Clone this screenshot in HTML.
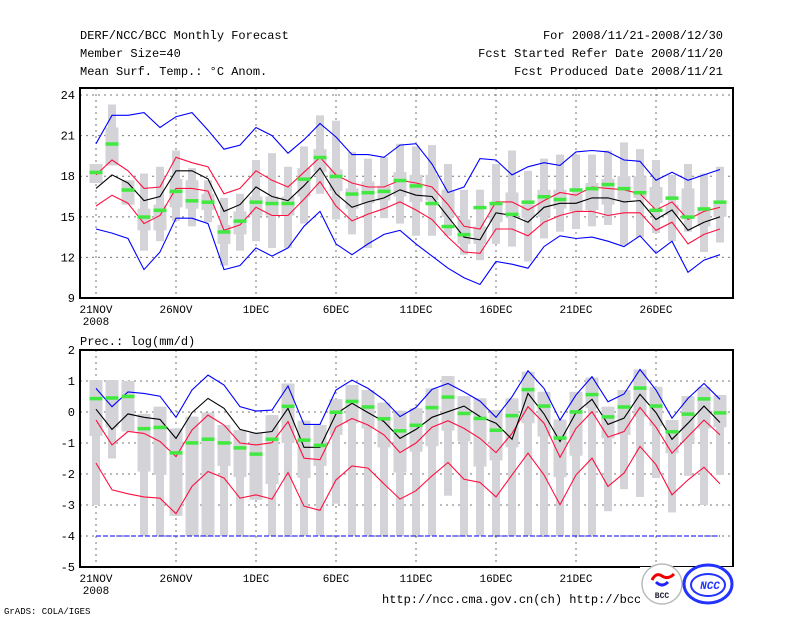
<!DOCTYPE html>
<html><head><meta charset="utf-8"><style>
body{margin:0;background:#fff;}
svg{display:block;font-family:"Liberation Mono",monospace;}
</style></head><body>
<svg id="chart" width="800" height="618" viewBox="0 0 800 618">
<rect width="800" height="618" fill="#fff"/>
<g font-size="12" fill="#000">
<text x="80" y="39">DERF/NCC/BCC Monthly Forecast</text>
<text x="80" y="57">Member Size=40</text>
<text x="80" y="75">Mean Surf. Temp.: °C Anom.</text>
<text x="723" y="39" text-anchor="end">For 2008/11/21-2008/12/30</text>
<text x="723" y="57" text-anchor="end">Fcst Started Refer Date 2008/11/20</text>
<text x="723" y="75" text-anchor="end">Fcst Produced Date 2008/11/21</text>
<text x="80" y="345">Prec.: log(mm/d)</text>
<text x="382" y="603">http://ncc.cma.gov.cn(ch)  http://bcc.cma.gov.cn</text>
</g>
<text x="4" y="614" font-size="9">GrADS: COLA/IGES</text>
<g id="top"></g>
<g id="bot"></g>
<rect x="640" y="567" width="100" height="48" fill="#fff"/>
<g>
<circle cx="662" cy="584" r="20" fill="#fff" stroke="#bbb" stroke-width="1.5"/>
<path d="M652 580 q4-8 10-4 q6 4 12-2" fill="none" stroke="#e00" stroke-width="3"/>
<path d="M656 582 q6 6 12 0" fill="none" stroke="#22f" stroke-width="3"/>
<text x="662" y="598" font-size="8" font-weight="bold" text-anchor="middle" fill="#223">BCC</text>
</g>
<g>
<ellipse cx="708" cy="584" rx="24" ry="19" fill="#fff" stroke="#23f" stroke-width="3"/>
<ellipse cx="708" cy="585" rx="17" ry="11" fill="none" stroke="#23f" stroke-width="2"/>
<text x="710" y="589" font-size="11" font-weight="bold" font-style="italic" text-anchor="middle" fill="#23f">NCC</text>
</g>
</svg>
<script>
const days = ["21NOV","26NOV","1DEC","6DEC","11DEC","16DEC","21DEC","26DEC"];
const tTicks = [24,21,18,15,12,9];
const pTicks = [2,1,0,-1,-2,-3,-4,-5];
// Temperature series (40 days)
const tBlueHi=[20.4,22.5,22.5,22.7,21.6,22.4,22.7,21.4,20.0,20.3,21.6,21.0,19.7,20.7,21.9,20.9,19.6,19.6,19.4,20.3,20.4,18.9,16.8,17.2,19.3,19.2,18.1,18.7,19.0,18.8,19.8,19.9,19.8,19.2,19.1,17.7,18.3,17.7,18.1,18.5];
const tRedHi=[18.1,19.2,18.4,17.1,17.2,19.4,19.0,18.7,16.7,17.1,18.4,17.7,17.2,18.3,19.4,18.1,17.5,17.2,17.2,17.7,17.5,17.2,15.9,14.3,14.1,16.1,16.1,15.5,16.2,16.8,16.6,17.2,17.1,17.0,16.7,15.5,16.1,14.8,15.4,15.7];
const tMean=[17.1,18.1,17.5,16.2,16.5,18.4,18.4,17.8,15.4,15.9,17.2,16.5,16.2,17.3,18.6,16.7,15.7,16.1,16.4,17.0,16.6,16.5,15.0,13.5,13.3,15.3,15.1,14.6,15.7,16.0,16.0,16.4,16.4,16.1,16.2,14.8,15.5,14.0,14.6,15.0];
const tRedLo=[15.8,16.6,16.0,14.5,15.1,17.1,17.1,16.9,14.0,14.4,15.7,15.1,15.1,16.3,17.6,15.8,14.7,15.2,15.6,16.1,15.5,14.8,13.5,12.4,12.3,14.1,14.1,13.6,14.6,15.1,15.4,15.4,15.1,15.3,15.3,14.0,14.6,13.0,13.7,14.1];
const tBlueLo=[14.1,13.8,13.4,11.1,12.4,14.9,14.9,14.5,11.1,11.4,12.7,12.1,12.7,14.3,15.4,13.0,12.2,13.0,13.7,14.0,13.0,12.1,11.2,10.5,10.0,11.7,11.5,11.2,12.8,13.6,13.4,13.5,13.2,12.8,13.6,12.3,13.2,10.9,11.8,12.2];
const tMedian=[18.3,20.4,17.0,15.0,15.5,16.9,16.2,16.1,13.9,14.7,16.1,16.0,16.0,17.8,19.4,18.0,16.7,16.8,16.9,17.7,17.3,16.0,14.3,13.7,15.7,16.0,15.2,16.1,16.5,16.3,17.0,17.1,17.4,17.1,16.8,15.5,16.4,15.0,15.6,16.1];
const tMax=[18.9,23.3,17.7,18.2,18.7,19.9,18.6,17.7,16.4,16.7,19.2,19.7,18.7,20.2,22.5,22.1,19.8,19.3,19.4,20.4,20.2,20.3,18.9,17.0,17.0,18.9,19.9,18.4,19.3,19.6,19.6,19.6,19.9,20.5,20.0,19.2,18.1,18.9,18.2,18.7];
const tMin=[17.5,18.8,15.9,12.5,13.2,14.7,14.3,14.6,11.4,12.5,13.2,12.7,12.7,14.5,16.7,14.8,13.7,12.7,14.9,14.5,13.6,13.6,13.6,12.2,11.8,13.0,12.8,11.7,13.4,13.9,14.1,14.3,14.4,12.9,13.5,13.8,13.2,13.9,12.4,13.1];
const tQ3=[18.9,21.6,17.7,15.6,15.9,17.8,17.7,16.7,14.4,15.4,16.5,16.5,16.5,18.6,20.0,18.5,17.1,17.6,17.3,18.3,18.1,18.1,17.0,14.8,14.3,16.0,16.8,15.9,17.0,17.0,16.7,17.5,17.8,18.0,18.0,17.2,15.9,17.1,15.6,16.1];
const tQ1=[17.5,18.8,15.9,14.0,14.0,15.7,15.6,15.5,13.0,13.7,15.1,15.1,15.1,16.5,18.3,16.9,15.6,16.0,16.2,16.5,16.1,16.2,15.0,13.0,13.0,14.6,15.0,14.9,15.0,15.6,15.4,15.5,15.9,16.2,16.4,16.0,15.1,15.1,14.3,15.0];
// Precipitation series
const pBlueHi=[0.76,0.17,0.65,0.6,0.51,-0.17,0.71,1.19,0.87,0.17,0.03,0.06,0.84,-0.4,-0.4,0.71,1.03,0.76,0.39,-0.15,0.15,0.73,0.92,0.65,0.35,-0.17,0.49,1.33,0.76,-0.26,0.55,1.14,0.33,0.58,1.37,0.71,-0.2,0.44,0.92,0.41];
const pRedHi=[-0.26,-1.06,-0.63,-0.69,-0.95,-1.44,-0.58,-0.1,-0.42,-1.0,-1.06,-0.99,-0.31,-1.49,-1.54,-0.49,-0.21,-0.42,-0.74,-1.31,-1.0,-0.49,-0.28,-0.53,-0.85,-1.31,-0.69,0.17,-0.36,-1.46,-0.53,0.01,-0.81,-0.63,0.15,-0.49,-1.33,-0.79,-0.26,-0.74];
const pMean=[0.09,-0.56,-0.06,-0.17,-0.24,-0.85,-0.02,0.44,0.12,-0.56,-0.69,-0.63,0.12,-1.14,-1.14,-0.06,0.28,-0.02,-0.31,-0.85,-0.56,-0.17,0.01,0.19,-0.15,-0.36,-0.88,0.6,-0.06,-0.95,-0.02,0.41,-0.4,-0.2,0.57,-0.02,-0.88,-0.36,0.19,-0.34];
const pRedLo=[-1.65,-2.51,-2.64,-2.74,-2.78,-3.28,-2.4,-1.92,-2.13,-2.78,-2.67,-2.81,-1.95,-3.04,-3.17,-2.19,-1.74,-1.81,-2.32,-2.81,-2.54,-2.06,-1.63,-2.17,-2.27,-2.74,-2.03,-1.33,-2.03,-2.99,-2.03,-1.49,-2.4,-1.97,-1.11,-1.7,-2.67,-2.19,-1.78,-2.32];
const pBlueLo=[-4,-4,-4,-4,-4,-4,-4,-4,-4,-4,-4,-4,-4,-4,-4,-4,-4,-4,-4,-4,-4,-4,-4,-4,-4,-4,-4,-4,-4,-4,-4,-4,-4,-4,-4,-4,-4,-4,-4,-4];
const pMedian=[0.44,0.46,0.51,-0.53,-0.49,-1.31,-0.99,-0.87,-0.99,-1.15,-1.35,-0.87,0.19,-0.9,-1.07,0,0.35,0.17,-0.21,-0.6,-0.42,0.15,0.49,-0.04,-0.2,-0.58,-0.11,0.73,0.2,-0.83,0.01,0.57,-0.15,0.17,0.78,0.2,-0.63,-0.06,0.43,-0.02];
const pMax=[1.03,1.03,1.0,-0.06,0.17,-0.53,-0.15,-0.02,-0.42,-0.58,-0.66,-0.1,0.92,-0.28,-0.42,0.41,0.87,0.71,0.3,0.04,0.12,0.76,1.16,0.51,0.44,0.06,0.44,1.3,0.65,-0.24,0.65,1.11,0.17,0.71,1.37,0.81,-0.26,0.51,0.81,0.55];
const pMin=[-3.0,-1.5,-0.63,-4,-4,-3.35,-4,-4,-4,-4,-2.83,-4,-4,-4,-4,-2.96,-4,-4,-4,-4,-4,-4,-2.7,-4,-4,-4,-4,-4,-4,-4,-4,-4,-3.2,-2.49,-2.74,-2.13,-3.24,-2.06,-3.0,-2.03];
const pQ3=[1.03,1.03,1.0,-0.06,0.17,-0.53,-0.15,-0.02,-0.42,-0.58,-0.66,-0.1,0.92,-0.28,-0.42,0.41,0.87,0.71,0.3,0.04,0.12,0.76,1.16,0.51,0.44,0.06,0.44,1.3,0.65,-0.24,0.65,1.11,0.17,0.71,1.37,0.81,-0.26,0.51,0.81,0.55];
const pQ1=[-0.77,-0.5,-0.63,-1.92,-2.03,-3.35,-4,-4,-1.74,-2.1,-2.83,-2.32,-1.0,-2.13,-1.74,-0.74,-0.36,-0.53,-1.14,-1.95,-1.28,-1.1,-0.6,-0.95,-1.76,-1.56,-1.14,-0.36,-0.79,-2.1,-1.41,0.12,-0.85,-0.74,-0.15,-0.45,-1.33,-1.0,-0.53,-0.49];

const NS="http://www.w3.org/2000/svg";
const X0=80,X1=733;
const xDay=i=>96+16*i;
function mk(parent,tag,attrs){const e=document.createElementNS(NS,tag);for(const k in attrs)e.setAttribute(k,attrs[k]);parent.appendChild(e);return e;}

function panel(g,top,bot,vTop,vBot,ticks,series){
  const y=v=>top+(vTop-v)*(bot-top)/(vTop-vBot);
  ticks.forEach(t=>{
    if(Math.abs(y(t)-top)>2&&Math.abs(y(t)-bot)>2){const l=mk(g,'line',{x1:X0,x2:X1,y1:y(t),y2:y(t),stroke:'#777','stroke-dasharray':'2,4'});
    
    }
    const tx=mk(g,'text',{x:75,y:y(t)+4,'text-anchor':'end','font-size':12});
    tx.textContent=t;
    
    
  });
  days.forEach((d,k)=>{
    const xx=xDay(k*5);
    const l=mk(g,'line',{x1:xx,x2:xx,y1:top,y2:bot,stroke:'#777','stroke-dasharray':'2,4'});
    
    
    const tx=mk(g,'text',{x:xx,y:bot+15,'text-anchor':'middle','font-size':11});
    tx.textContent=d;
    
    
  });
  const yr=mk(g,'text',{x:96,y:bot+27,'text-anchor':'middle','font-size':11});
  yr.textContent='2008';
  
  
  for(let i=0;i<40;i++){
    const xx=xDay(i);
    const w=mk(g,'rect',{x:xx-4,y:y(series.max[i]),width:8,height:Math.max(1,y(series.min[i])-y(series.max[i])),fill:'#d3d3d8'});
    
    
    const b=mk(g,'rect',{x:xx-6.5,y:y(series.q3[i]),width:13,height:Math.max(1,y(series.q1[i])-y(series.q3[i])),fill:'#d3d3d8'});
    
    
  }
  const line=(arr,col,name,dash)=>{
    const p=mk(g,'polyline',{points:arr.map((v,i)=>xDay(i)+','+y(v).toFixed(1)).join(' '),fill:'none',stroke:col,'stroke-width':1.1});
    if(dash)p.setAttribute('stroke-dasharray',dash);
    
    
  };
  line(series.bhi,'#0000ff','blue-upper-line');
  line(series.bl,'#0000ff','blue-lower-line',series.blDash);
  line(series.rhi,'#ff1040','red-upper-line');
  line(series.rlo,'#ff1040','red-lower-line');
  line(series.mean,'#000','ensemble-mean-line');
  for(let i=0;i<40;i++){
    const m=mk(g,'rect',{x:xDay(i)-6.5,y:y(series.med[i])-1.5,width:13,height:3.5,fill:'#40e840'});
    
    
  }
  const f=mk(g,'rect',{x:X0,y:top,width:X1-X0,height:bot-top,fill:'none',stroke:'#000','stroke-width':2});
  
  
}
panel(document.getElementById('top'),88,298,24.52,9,tTicks,{bhi:tBlueHi,rhi:tRedHi,mean:tMean,rlo:tRedLo,bl:tBlueLo,med:tMedian,max:tMax,min:tMin,q3:tQ3,q1:tQ1});
panel(document.getElementById('bot'),350,567,2,-5,pTicks,{bhi:pBlueHi,rhi:pRedHi,mean:pMean,rlo:pRedLo,bl:pBlueLo,med:pMedian,max:pMax,min:pMin,q3:pQ3,q1:pQ1,blDash:'5,2'});
</script>
</body></html>
